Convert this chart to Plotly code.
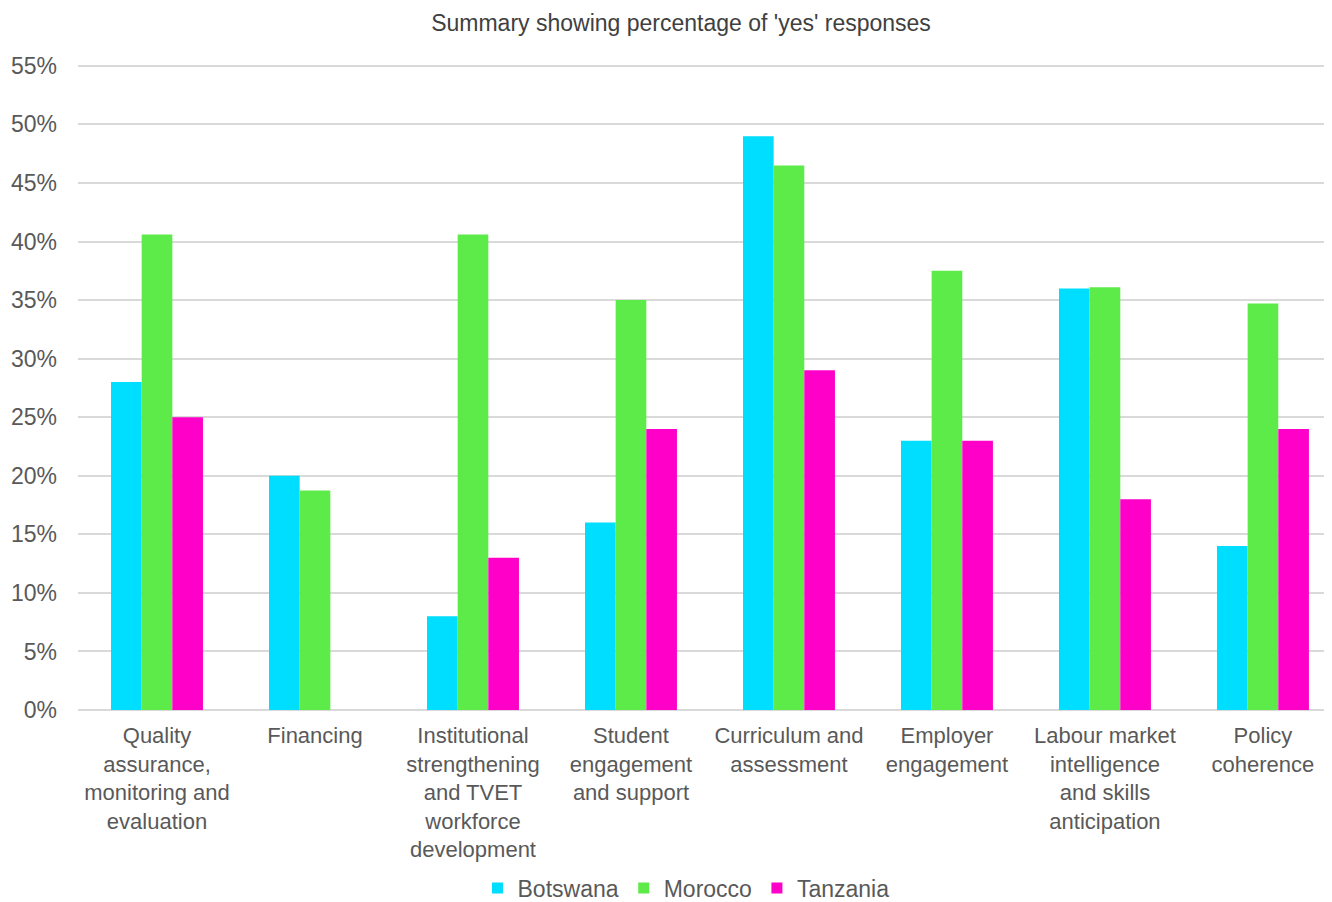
import plotly.graph_objects as go

categories = [
    "Quality<br>assurance,<br>monitoring and<br>evaluation",
    "Financing",
    "Institutional<br>strengthening<br>and TVET<br>workforce<br>development",
    "Student<br>engagement<br>and support",
    "Curriculum and<br>assessment",
    "Employer<br>engagement",
    "Labour market<br>intelligence<br>and skills<br>anticipation",
    "Policy<br>coherence",
]
botswana = [28, 20, 8, 16, 49, 23, 36, 14]
morocco = [40.6, 18.75, 40.6, 35, 46.5, 37.5, 36.1, 34.7]
tanzania = [25, 0, 13, 24, 29, 23, 18, 24]
y_ticks = [0, 5, 10, 15, 20, 25, 30, 35, 40, 45, 50, 55]
y_tick_labels = [f"{v}%" for v in y_ticks]

series = [
    ("Botswana", botswana, "#00DEFF"),
    ("Morocco", morocco, "#5DEB4A"),
    ("Tanzania", tanzania, "#FF00C8"),
]

fig = go.Figure()
for name, vals, color in series:
    fig.add_trace(go.Bar(
        x=categories, y=vals, name=name,
        marker=dict(color=color, line=dict(width=0)),
        showlegend=False,
    ))
    fig.add_trace(go.Scatter(
        x=[None], y=[None], mode="markers", name=name,
        marker=dict(symbol="square", size=11, color=color),
    ))

W, H = 1324, 894
fig.update_layout(
    width=W, height=H,
    paper_bgcolor="white", plot_bgcolor="white",
    font=dict(family="Liberation Sans, Arial, sans-serif", size=22, color="#595959"),
    title=dict(
        text="Summary showing percentage of 'yes' responses",
        font=dict(size=23, color="#404040"),
        x=673 / W, xref="container", xanchor="center",
        y=1 - 15 / H, yref="container", yanchor="middle",
    ),
    margin=dict(l=70, r=0, t=52, b=192),
    barmode="group",
    bargap=0.418,
    bargroupgap=0,
    legend=dict(
        orientation="h",
        x=678 / W, xref="container", xanchor="center",
        y=14 / H, yref="container", yanchor="middle",
        font=dict(size=23, color="#595959"),
        itemwidth=30,
        tracegroupgap=0,
    ),
    showlegend=True,
)
fig.update_xaxes(
    range=[-0.5, 7.437],
    showgrid=False, showline=False, ticks="", tickangle=0,
    tickfont=dict(size=22, color="#595959"),
    ticklabelstandoff=10,
)
fig.update_yaxes(
    range=[0, 55.5], tickmode="array", tickvals=y_ticks, ticktext=y_tick_labels,
    showgrid=True, gridcolor="#D9D9D9", gridwidth=1.5,
    zeroline=True, zerolinecolor="#D9D9D9", zerolinewidth=1.5,
    showline=False, ticks="",
    tickfont=dict(size=23, color="#595959"),
    ticklabelstandoff=20,
)

fig.write_html("out.html")
